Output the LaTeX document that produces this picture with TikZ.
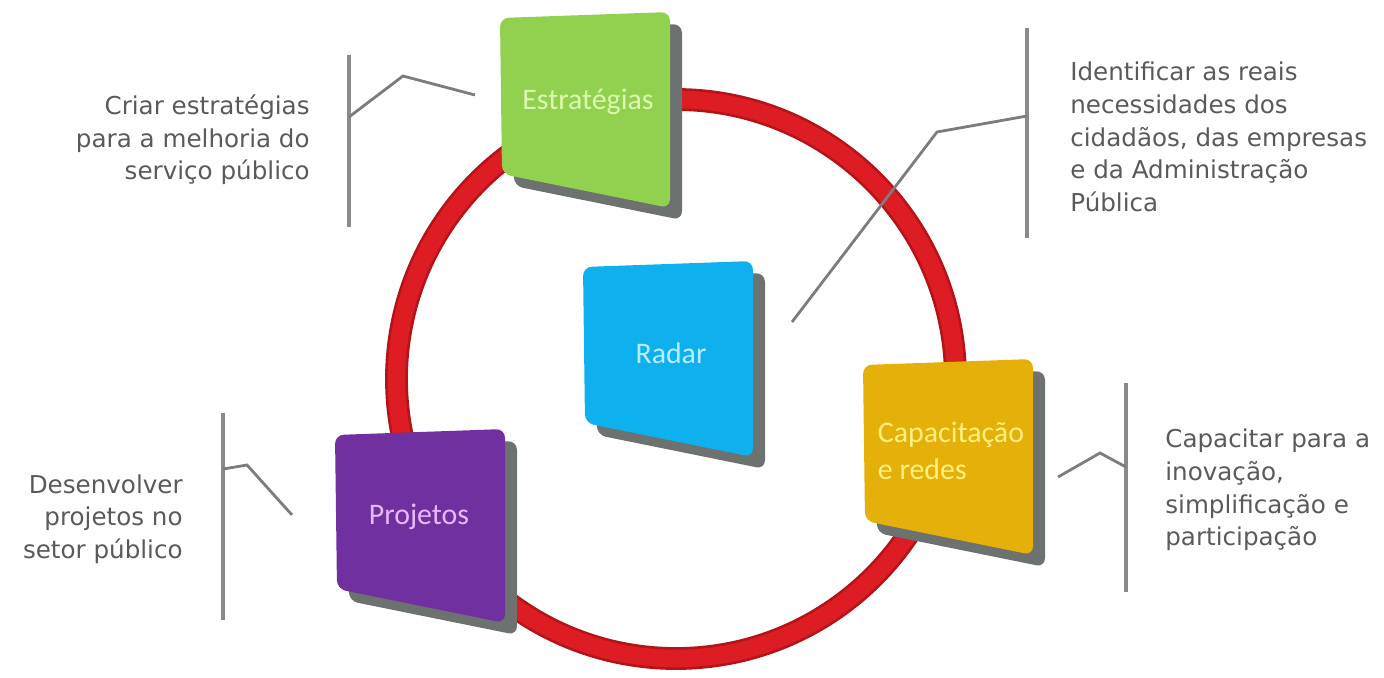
\documentclass[tikz,border=0pt]{standalone}
\usepackage{fontspec}
\setmainfont{DejaVu Sans}
\newfontfamily\boxfont{Carlito}
\usepackage{tikz}
\usetikzlibrary{positioning}
\usepackage{xcolor}
\definecolor{ringdark}{HTML}{B3141B}
\definecolor{ringred}{HTML}{DE1C24}
\definecolor{shadowgray}{HTML}{6D7270}
\definecolor{estgreen}{HTML}{92D050}
\definecolor{estlight}{HTML}{DDF8B0}
\definecolor{radblue}{HTML}{0EB0EE}
\definecolor{radlight}{HTML}{B8ECFF}
\definecolor{capgold}{HTML}{E6B00A}
\definecolor{caplight}{HTML}{FFF080}
\definecolor{propurple}{HTML}{7030A0}
\definecolor{prolight}{HTML}{E6B8F8}
\definecolor{linegray}{HTML}{8A8A8A}
\definecolor{notegray}{HTML}{5A5A5A}

\tikzset{
  ringback/.style={line width=13pt, color=ringdark},
  ringfront/.style={line width=10pt, color=ringred},
  shadowbox/.style={fill=shadowgray, rounded corners=5pt},
  facebox/.style={rounded corners=5pt},
  boxlabel/.style={font=\boxfont\fontsize{17}{21}\selectfont, inner sep=0pt},
  note/.style={font=\fontsize{14}{18.6}\selectfont, text=notegray, inner sep=0pt},
  bracket/.style={line width=2.2pt, color=linegray},
  leader/.style={line width=1.6pt, color=linegray!90!black},
}

\begin{document}
\begin{tikzpicture}[x=0.02cm, y=-0.02cm]
        \useasboundingbox (0,0) rectangle (1384,677);

        % Ring
        \coordinate (ctr) at (676,379);
        \draw[ringback] (ctr) circle (279.5);
        \draw[ringfront] (ctr) circle (279.5);

        % Box 1: Estrategias
        \begin{scope}[shift={(500,18)}]
            \fill[shadowbox] (12,12) -- (182,6) -- (182,202) -- (14,168) -- cycle;
            \fill[facebox, fill=estgreen] (0,0) -- (170,-6) -- (170,190) -- (2,156) -- cycle;
            \node[boxlabel, text=estlight] (estrategias) at (88,84) {Estratégias};
        \end{scope}

        % Box 2: Radar
        \begin{scope}[shift={(583,267)}]
            \fill[shadowbox] (12,12) -- (182,6) -- (182,202) -- (14,168) -- cycle;
            \fill[facebox, fill=radblue] (0,0) -- (170,-6) -- (170,190) -- (2,156) -- cycle;
            \node[boxlabel, text=radlight] (radar) at (88,86) {Radar};
        \end{scope}

        % Box 3: Capacitacao e redes
        \begin{scope}[shift={(863,365)}]
            \fill[shadowbox] (12,12) -- (182,6) -- (182,202) -- (14,168) -- cycle;
            \fill[facebox, fill=capgold] (0,0) -- (170,-6) -- (170,190) -- (2,156) -- cycle;
            \node[boxlabel, text=caplight, align=left] (capacitacao) at (88,86) {Capacitação\\e redes};
        \end{scope}

        % Box 4: Projetos
        \begin{scope}[shift={(335,435)}]
            \fill[shadowbox] (12,12) -- (182,6) -- (182,200) -- (14,166) -- cycle;
            \fill[facebox, fill=propurple] (0,0) -- (170,-6) -- (170,188) -- (2,154) -- cycle;
            \node[boxlabel, text=prolight] (projetos) at (84,82) {Projetos};
        \end{scope}

        % Note 1: top left
        \coordinate (b1top) at (349,55); \coordinate (b1bot) at (349,227);
        \coordinate (b1mid) at (349,117); \coordinate (b1knee) at (403,76);
        \coordinate (b1end) at (475,95);
        \draw[bracket] (b1top) -- (b1bot);
        \draw[leader] (b1mid) -- (b1knee) -- (b1end);
        \node[note, anchor=east, align=right] (criar) at (310,140) {Criar estratégias\\para a melhoria do\\serviço público};

        % Note 2: top right
        \coordinate (b2top) at (1027,28); \coordinate (b2bot) at (1027,238);
        \coordinate (b2mid) at (1027,116); \coordinate (b2knee) at (937,132);
        \coordinate (b2end) at (792,322);
        \draw[bracket] (b2top) -- (b2bot);
        \draw[leader] (b2mid) -- (b2knee) -- (b2end);
        \node[note, anchor=west, align=left] (identificar) at (1070,137) {Identificar as reais\\necessidades dos\\cidadãos, das empresas\\e da Administração\\Pública};

        % Note 3: bottom right
        \coordinate (b3top) at (1126,383); \coordinate (b3bot) at (1126,592);
        \coordinate (b3mid) at (1126,467); \coordinate (b3knee) at (1100,453);
        \coordinate (b3end) at (1058,477);
        \draw[bracket] (b3top) -- (b3bot);
        \draw[leader] (b3mid) -- (b3knee) -- (b3end);
        \node[note, anchor=west, align=left] (capacitar) at (1165,490) {Capacitar para a\\inovação,\\simplificação e\\participação};

        % Note 4: bottom left
        \coordinate (b4top) at (223,413); \coordinate (b4bot) at (223,620);
        \coordinate (b4mid) at (223,469); \coordinate (b4knee) at (247,465);
        \coordinate (b4end) at (292,515);
        \draw[bracket] (b4top) -- (b4bot);
        \draw[leader] (b4mid) -- (b4knee) -- (b4end);
        \node[note, anchor=east, align=right] (desenvolver) at (183,519) {Desenvolver\\projetos no\\setor público};
\end{tikzpicture}
\end{document}
